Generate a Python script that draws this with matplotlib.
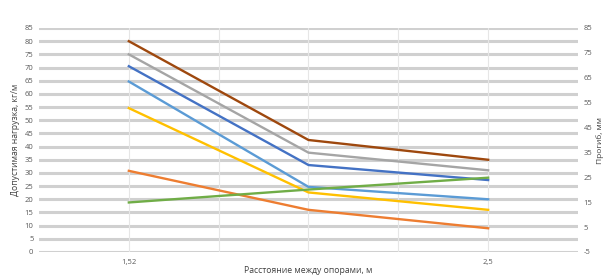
import matplotlib.pyplot as plt
import numpy as np

plt.rcParams["axes.unicode_minus"] = False
plt.rcParams["font.family"] = ["Open Sans", "DejaVu Sans"]

# расстояние между опорами, м
span = [1.52, 2.01, 2.5]

# допустимая нагрузка, кг/м
brown = [80, 42.5, 35]
gray = [75, 37.7, 31]
blue = [70.5, 33, 27.3]
light_blue = [64.7, 24.7, 20]
yellow = [54.6, 22.6, 16]
orange = [30.8, 16, 9]
green = [18.8, 23.7, 28.2]

series = [
    (brown, "#9E480E"),
    (gray, "#A5A5A5"),
    (blue, "#4472C4"),
    (light_blue, "#5B9BD5"),
    (yellow, "#FFC000"),
    (orange, "#ED7D31"),
    (green, "#70AD47"),
]

tick_col = "#595959"
step = (span[2] - span[0]) / 4

fig = plt.figure(figsize=(6.12, 2.78), dpi=100)
ax = fig.add_axes([39 / 612, 1 - 252 / 278, (578 - 39) / 612, (252 - 28) / 278])

ax.set_xlim(span[0] - step, span[2] + step)
ax.set_ylim(0, 85)
ax.set_yticks(np.arange(0, 86, 5))
for y in np.arange(0, 86, 5):
    ax.axhline(y, color="#d0d0d0", lw=2.2, zorder=0)
for k in range(1, 6):
    ax.axvline(span[0] + (k - 1) * step, color="#e6e6e6", lw=0.8, zorder=0)

for vals, col in series:
    ax.plot(span, vals, color=col, lw=1.7, zorder=3)

ax.set_xticks([span[0], span[2]])
ax.set_xticklabels(["1,52", "2,5"])
for s in ax.spines.values():
    s.set_visible(False)
ax.tick_params(length=0, labelsize=5.5, colors=tick_col, pad=4)
ax.tick_params(axis="x", pad=5)
ax.set_xlabel("Расстояние между опорами, м", fontsize=6.2, color="#404040", labelpad=0)
ax.set_ylabel("Допустимая нагрузка, кг/м", fontsize=6.2, color="#404040", labelpad=3)

ax2 = ax.twinx()
ax2.set_ylim(-5, 85)
ax2.set_yticks(np.arange(-5, 86, 10))
for s in ax2.spines.values():
    s.set_visible(False)
ax2.tick_params(length=0, labelsize=5.5, colors=tick_col, pad=4)
ax2.set_ylabel("Прогиб, мм", fontsize=6, color="#404040")
ax2.yaxis.set_label_coords(1.034, 0.5)

fig.savefig("out.png", dpi=100)
